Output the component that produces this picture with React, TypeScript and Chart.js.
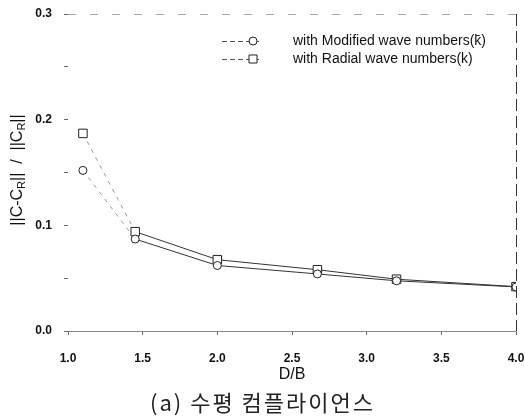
import React, { useEffect, useRef } from "react";
import { Chart, registerables } from "chart.js";

Chart.register(...registerables);

const dbValues = [1.1, 1.45, 2.0, 2.67, 3.2, 4.0];
const modifiedValues = [0.152, 0.087, 0.062, 0.054, 0.0475, 0.0417];
const radialValues = [0.187, 0.094, 0.0675, 0.058, 0.049, 0.042];
const modifiedLabel = "with Modified wave numbers(k\u0304)";
const radialLabel = "with Radial wave numbers(k)";
const xTitle = "D/B";
const caption = "(a) 수평 컴플라이언스";

const FONT = "'Liberation Sans', Arial, sans-serif";

const decorPlugin = {
  id: "decor",
  afterDatasetsDraw(chart: any) {
    const { ctx, chartArea } = chart;
    const { left, right, top, bottom } = chartArea;
    ctx.save();
    // top border (scan-like dashed)
    ctx.strokeStyle = "#aaa";
    ctx.lineWidth = 1;
    ctx.setLineDash([8, 14]);
    ctx.beginPath();
    ctx.moveTo(left, top + 0.5);
    ctx.lineTo(right, top + 0.5);
    ctx.stroke();
    // right border
    ctx.strokeStyle = "#333";
    ctx.setLineDash([12, 5]);
    ctx.beginPath();
    ctx.moveTo(right + 0.5, top);
    ctx.lineTo(right + 0.5, bottom);
    ctx.stroke();
    ctx.setLineDash([]);

    // legend
    const items = [
      { label: modifiedLabel, style: "circle", y: top + 27 },
      { label: radialLabel, style: "rect", y: top + 45 },
    ];
    const lx0 = left + 154;
    const lx1 = left + 194;
    const mx = left + 185;
    items.forEach((it) => {
      ctx.strokeStyle = "#555";
      ctx.lineWidth = 1;
      ctx.setLineDash([5, 3]);
      ctx.beginPath();
      ctx.moveTo(lx0, it.y + 0.5);
      ctx.lineTo(lx1, it.y + 0.5);
      ctx.stroke();
      ctx.setLineDash([]);
      ctx.fillStyle = "#fff";
      ctx.strokeStyle = "#222";
      ctx.beginPath();
      if (it.style === "circle") {
        ctx.arc(mx, it.y, 4, 0, Math.PI * 2);
      } else {
        ctx.rect(mx - 4, it.y - 4, 8, 8);
      }
      ctx.fill();
      ctx.stroke();
      ctx.fillStyle = "#111";
      ctx.font = `14px ${FONT}`;
      ctx.textAlign = "left";
      ctx.textBaseline = "middle";
      ctx.fillText(it.label, left + 225, it.y);
    });

    // y axis title with subscripts
    const parts = [
      { t: "||C-C", sub: false },
      { t: "R", sub: true },
      { t: "||  /  ||C", sub: false },
      { t: "R", sub: true },
      { t: "||", sub: false },
    ];
    const mainFont = `16px ${FONT}`;
    const subFont = `11px ${FONT}`;
    let total = 0;
    parts.forEach((p) => {
      ctx.font = p.sub ? subFont : mainFont;
      total += ctx.measureText(p.t).width;
    });
    ctx.translate(18, 170);
    ctx.rotate(-Math.PI / 2);
    let x = -total / 2;
    ctx.fillStyle = "#111";
    ctx.textAlign = "left";
    ctx.textBaseline = "middle";
    parts.forEach((p) => {
      ctx.font = p.sub ? subFont : mainFont;
      ctx.fillText(p.t, x, p.sub ? 4 : 0);
      x += ctx.measureText(p.t).width;
    });
    ctx.restore();
  },
};

export default function App() {
  const canvasRef = useRef<HTMLCanvasElement | null>(null);

  useEffect(() => {
    const canvas = canvasRef.current;
    if (!canvas) return;
    const firstSegDash = (c: any) => (c.p0DataIndex === 0 ? [4, 5] : undefined);
    const firstSegColor = (c: any) => (c.p0DataIndex === 0 ? "#999" : undefined);
    const chart = new Chart(canvas, {
      type: "line",
      data: {
        datasets: [
          {
            label: modifiedLabel,
            data: dbValues.map((x, i) => ({ x, y: modifiedValues[i] })),
            borderColor: "#333",
            borderWidth: 1,
            pointStyle: "circle",
            pointRadius: 4,
            pointBackgroundColor: "#fff",
            pointBorderColor: "#222",
            pointBorderWidth: 1,
            segment: { borderDash: firstSegDash, borderColor: firstSegColor },
          },
          {
            label: radialLabel,
            data: dbValues.map((x, i) => ({ x, y: radialValues[i] })),
            borderColor: "#333",
            borderWidth: 1,
            pointStyle: "rect",
            pointRadius: 6,
            pointBackgroundColor: "#fff",
            pointBorderColor: "#222",
            pointBorderWidth: 1,
            segment: { borderDash: firstSegDash, borderColor: firstSegColor },
          },
        ],
      },
      options: {
        animation: false,
        responsive: false,
        maintainAspectRatio: false,
        layout: { padding: { top: 14, right: 9, left: 0, bottom: 0 } },
        plugins: {
          legend: { display: false },
          tooltip: { enabled: false },
        },
        scales: {
          x: {
            type: "linear",
            min: 1,
            max: 4,
            afterFit: (s: any) => {
              s.height = 85;
              s.paddingRight = 0;
              s.paddingLeft = 0;
            },
            ticks: {
              stepSize: 0.5,
              padding: 16,
              color: "#111",
              font: { family: FONT, size: 12, weight: "bold" },
              callback: (v: any) => Number(v).toFixed(1),
            },
            grid: { drawOnChartArea: false, drawTicks: true, tickLength: 4, color: "#666" },
            border: { display: true, color: "#888", dash: [6, 9] },
            title: {
              display: true,
              text: xTitle,
              color: "#111",
              font: { family: FONT, size: 16 },
              padding: { top: 0, bottom: 32 },
            },
          },
          y: {
            min: 0,
            max: 0.3,
            afterFit: (s: any) => {
              s.width = 68;
              s.paddingTop = 0;
              s.paddingBottom = 0;
            },
            ticks: {
              stepSize: 0.05,
              padding: 12,
              color: "#111",
              font: { family: FONT, size: 12, weight: "bold" },
              callback: (v: any) => {
                const n = Math.round(Number(v) * 100);
                return n % 10 === 0 ? (n / 100).toFixed(1) : "";
              },
            },
            grid: { drawOnChartArea: false, drawTicks: true, tickLength: 4, color: "#666" },
            border: { display: false },
          },
        },
      },
      plugins: [decorPlugin],
    });
    return () => chart.destroy();
  }, []);

  return (
    <div style={{ position: "absolute", left: 0, top: 0, width: 525, height: 416, background: "#fff" }}>
      <canvas ref={canvasRef} width={525} height={416} style={{ display: "block" }} />
      <div
        style={{
          position: "absolute",
          left: 0,
          width: 525,
          top: 388,
          lineHeight: "26px",
          textAlign: "center",
          fontFamily: "'Noto Sans CJK KR', sans-serif",
          fontSize: 22,
          letterSpacing: 2,
          color: "#222",
        }}
      >
        {caption}
      </div>
    </div>
  );
}
